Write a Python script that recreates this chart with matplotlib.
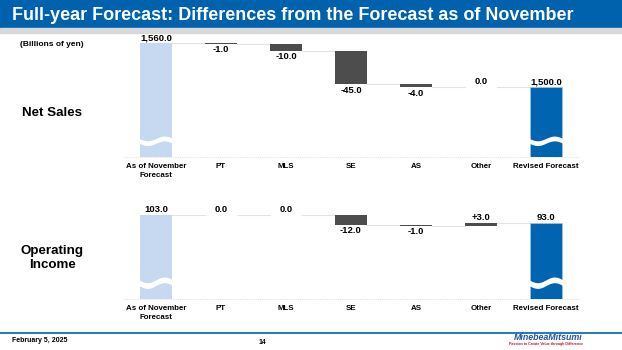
import numpy as np
import matplotlib.pyplot as plt
from matplotlib.patches import Rectangle

plt.rcParams['font.family'] = ['Liberation Sans', 'DejaVu Sans']

# =========================
# Data
# =========================
categories = ['As of November\nForecast', 'PT', 'MLS', 'SE', 'AS', 'Other', 'Revised Forecast']
sales_start = 1560.0
sales_deltas = [-1.0, -10.0, -45.0, -4.0, 0.0]
sales_end = 1500.0
oi_start = 103.0
oi_deltas = [0.0, 0.0, -12.0, -1.0, 3.0]
oi_end = 93.0

START_C = '#c6d9f0'
END_C = '#0064b1'
DELTA_C = '#4d4d4d'
LINE_C = '#e3e3e3'

W, H = 622, 350
fig = plt.figure(figsize=(W / 100, H / 100), dpi=100)


def px_axes(x0, y0, x1, y1):
    # pixel box (top-left origin) -> figure axes
    return fig.add_axes([x0 / W, 1 - y1 / H, (x1 - x0) / W, (y1 - y0) / H])


def wave(ax, x, y, amp, band):
    xs = np.linspace(x - 0.26, x + 0.26, 60)
    ys = y + amp * np.sin((xs - x) / 0.26 * np.pi)
    ax.fill_between(xs, ys - band / 2, ys + band / 2, color='white', lw=0, zorder=4)


def fmt(v, sign=False):
    s = f'{v:,.1f}'
    if sign and v > 0:
        s = '+' + s
    return s


def label(ax, x, y, s, dy, va):
    ax.annotate(s, (x, y), xytext=(0, dy), textcoords='offset points', ha='center', va=va,
                fontsize=6.8, fontweight='bold', annotation_clip=False)


def waterfall(ax, start, deltas, end, ylo, yhi, wave_y, amp, band):
    n = len(categories)
    bw = 0.5
    ax.set_xlim(-0.5, n - 0.5)
    ax.set_ylim(ylo, yhi)
    ax.axis('off')
    ax.plot([-0.5, n - 0.5], [ylo, ylo], color=LINE_C, lw=0.8, ls=(0, (1, 1)), clip_on=False)

    ax.bar(0, start - ylo, bottom=ylo, width=bw, color=START_C, zorder=3)
    label(ax, 0, start, fmt(start), 0.5, 'bottom')
    wave(ax, 0, wave_y, amp, band)

    level = start
    for i, d in enumerate(deltas, start=1):
        ax.plot([i - 1 + bw / 2, i - bw / 2], [level, level], color=LINE_C, lw=0.8, zorder=2)
        new = level + d
        if d != 0:
            ax.bar(i, d, bottom=level, width=bw, color=DELTA_C, zorder=3)
        if d < 0:
            label(ax, i, new, fmt(d), -1, 'top')
        else:
            label(ax, i, new, fmt(d, sign=True), 1, 'bottom')
        level = new

    ax.plot([n - 2 + bw / 2, n - 1 - bw / 2], [level, level], color=LINE_C, lw=0.8, zorder=2)
    ax.bar(n - 1, end - ylo, bottom=ylo, width=bw, color=END_C, edgecolor='#9cc3e6', lw=0.5, zorder=3)
    label(ax, n - 1, end, fmt(end), 0.5, 'bottom')
    wave(ax, n - 1, wave_y, amp, band)

    for i, c in enumerate(categories):
        ax.annotate(c, (i, ylo), xytext=(0, -4), textcoords='offset points', ha='center',
                    va='top', fontsize=5.7, fontweight='bold', linespacing=1.4,
                    annotation_clip=False)


# =========================
# Header / footer
# =========================
fig.patches.append(Rectangle((0, 1 - 28 / H), 1, 28 / H, transform=fig.transFigure,
                             color='#0062ad', zorder=0))
fig.patches.append(Rectangle((0, 1 - 33 / H), 1, 5 / H, transform=fig.transFigure,
                             color='#d9d9d9', zorder=0))
fig.text(12 / W, 1 - 15 / H, 'Full-year Forecast: Differences from the Forecast as of November',
         color='white', fontsize=13, fontweight='bold', va='center', ha='left')
fig.lines.append(plt.Line2D([0, 1], [1 - 333 / H, 1 - 333 / H], transform=fig.transFigure,
                            color='#0062ad', lw=1.2))
fig.text(12 / W, 1 - 341 / H, 'February 5, 2025', fontsize=5, fontweight='bold', va='center')
fig.text(262 / W, 1 - 343 / H, '14', fontsize=5, fontweight='bold', va='center', ha='center')
fig.text(583 / W, 1 - 337 / H, 'MinebeaMitsumi', fontsize=6.4, fontweight='bold', style='italic',
         color='#1f55a8', ha='right', va='center')
fig.text(583 / W, 1 - 344.5 / H, 'Passion to Create Value through Difference', fontsize=2.6,
         fontweight='bold', color='#d0101b', ha='right', va='center')

fig.text(20 / W, 1 - 44 / H, '(Billions of yen)', fontsize=6, fontweight='bold', va='center')
fig.text(52 / W, 1 - 113 / H, 'Net Sales', fontsize=9.6, fontweight='bold', va='center', ha='center')
fig.text(52 / W, 1 - 258 / H, 'Operating\nIncome', fontsize=9.6, fontweight='bold', va='center',
         ha='center', linespacing=1.2)

# =========================
# Charts
# =========================
ax1 = px_axes(123.5, 43, 578.5, 157)
waterfall(ax1, sales_start, sales_deltas, sales_end, 1405, 1560, 1427, 3.2, 6.5)

ax2 = px_axes(123.5, 215, 578.5, 299)
waterfall(ax2, oi_start, oi_deltas, oi_end, 0, 103, 20, 3.5, 7)

fig.savefig('out.png', dpi=100)
